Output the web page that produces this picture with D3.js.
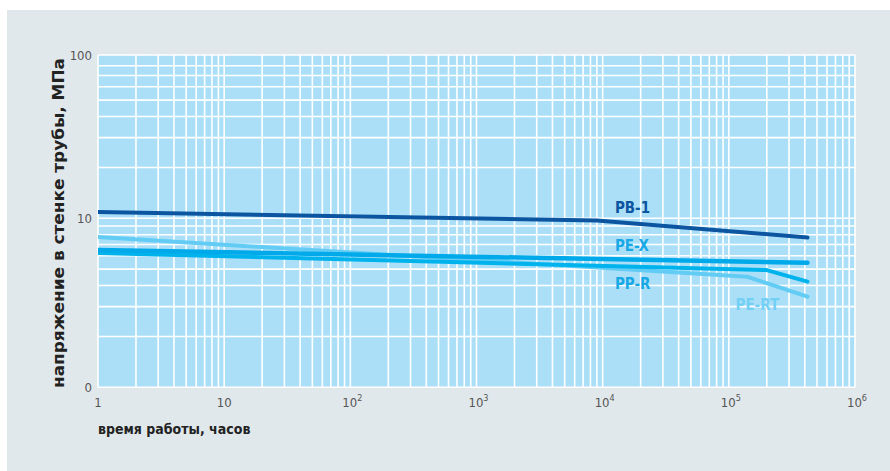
<!DOCTYPE html>
<html>

<head>
	<title>Напряжение в стенке трубы</title>
	<meta charset="utf-8">
	<script src="https://cdn.jsdelivr.net/npm/d3@7"></script>
</head>

<style>
	body { margin: 0; background: #fff; }
	text { font-family: "DejaVu Sans Condensed", "Liberation Sans Narrow", sans-serif; }
	.tick-label { fill: #555; font-size: 13px; }
	.axis-title { fill: #222; font-weight: bold; }
	.series-label { font-size: 15px; font-weight: bold; }
</style>

<body>

	<svg width="890" height="471"></svg>

	<script>
		// hours on a log axis
		var hours = {
			'PB-1': [1, 9000, 420000],
			'PE-X': [1, 420000],
			'PP-R': [1, 200000, 420000],
			'PE-RT': [1, 140000, 420000]
		};
		// stress, MPa
		var stress = {
			'PB-1': [10.9, 9.7, 7.7],
			'PE-X': [6.49, 5.46],
			'PP-R': [6.23, 4.94, 4.22],
			'PE-RT': [7.75, 4.51, 3.44]
		};
		var seriesNames = ['PE-RT', 'PP-R', 'PE-X', 'PB-1'];
		var colors = {
			'PB-1': '#0b55a1',
			'PE-X': '#00aaea',
			'PP-R': '#00b3ed',
			'PE-RT': '#62ccf4'
		};
		var labelColors = {
			'PB-1': '#0b55a1',
			'PE-X': '#18a8e6',
			'PP-R': '#18a8e6',
			'PE-RT': '#72d0f5'
		};

		var xTicks = [1, 10, 100, 1000, 10000, 100000, 1000000];
		var xTickBase = ['1', '10', '10', '10', '10', '10', '10'];
		var xTickExp = ['', '', '2', '3', '4', '5', '6'];
		var yTicks = [1, 10, 100];
		var yTickLabels = ['0', '10', '100'];

		var plot = { left: 98, right: 855, top: 55, bottom: 387.3 };

		var x = d3.scaleLog().domain([1, 1e6]).range([plot.left, plot.right]);
		var y = d3.scaleLog().domain([1, 100]).range([plot.bottom, 49.3]);

		var svg = d3.select('svg');

		svg.append('rect')
			.attr('x', 7).attr('y', 10)
			.attr('width', 883).attr('height', 461)
			.attr('fill', '#e1e8eb');

		svg.append('rect')
			.attr('x', plot.left).attr('y', plot.top)
			.attr('width', plot.right - plot.left)
			.attr('height', plot.bottom - plot.top)
			.attr('fill', '#abdff8');

		svg.append('clipPath').attr('id', 'clip')
			.append('rect')
			.attr('x', plot.left).attr('y', plot.top)
			.attr('width', plot.right - plot.left)
			.attr('height', plot.bottom - plot.top);

		// grid
		var xGrid = [];
		for (var e = 0; e < 6; e++) {
			for (var k = 1; k < 10; k++) xGrid.push(k * Math.pow(10, e));
		}
		xGrid.push(1e6);
		var yGrid = [];
		for (var e2 = 0; e2 < 2; e2++) {
			for (var k2 = 1; k2 < 10; k2++) yGrid.push(k2 * Math.pow(10, e2));
		}
		yGrid = yGrid.filter(function(d) { return d !== 90; });

		var grid = svg.append('g').attr('stroke', '#fff').attr('stroke-width', 1.6);

		grid.selectAll('.gx')
			.data(xGrid)
			.enter()
			.append('line')
			.attr('x1', function(d) { return x(d); })
			.attr('x2', function(d) { return x(d); })
			.attr('y1', plot.top)
			.attr('y2', plot.bottom);

		grid.selectAll('.gy')
			.data(yGrid)
			.enter()
			.append('line')
			.attr('x1', plot.left)
			.attr('x2', plot.right)
			.attr('y1', function(d) { return y(d); })
			.attr('y2', function(d) { return y(d); });

		grid.append('line')
			.attr('x1', plot.left).attr('x2', plot.right)
			.attr('y1', plot.top).attr('y2', plot.top);

		// series
		var line = d3.line()
			.x(function(d) { return x(d[0]); })
			.y(function(d) { return y(d[1]); });

		svg.append('g')
			.attr('clip-path', 'url(#clip)')
			.selectAll('path')
			.data(seriesNames)
			.enter()
			.append('path')
			.attr('fill', 'none')
			.attr('stroke', function(d) { return colors[d]; })
			.attr('stroke-width', function(d) { return d === 'PE-X' ? 4.5 : 4; })
			.attr('stroke-linecap', 'round')
			.attr('stroke-linejoin', 'round')
			.attr('d', function(d) {
				return line(d3.zip(hours[d], stress[d]));
			});

		// series labels (baseline anchor in data units)
		var labelPos = {
			'PB-1': [12500, 10.75],
			'PE-X': [12500, 6.4],
			'PP-R': [12500, 3.82],
			'PE-RT': [113000, 2.87]
		};

		svg.selectAll('.series-label')
			.data(seriesNames)
			.enter()
			.append('text')
			.attr('class', 'series-label')
			.attr('x', function(d) { return x(labelPos[d][0]); })
			.attr('y', function(d) { return y(labelPos[d][1]); })
			.attr('fill', function(d) { return labelColors[d]; })
			.text(function(d) { return d; });

		// x tick labels
		var xt = svg.selectAll('.xt')
			.data(xTicks)
			.enter()
			.append('text')
			.attr('class', 'tick-label')
			.attr('x', function(d, i) { return x(d) + (xTickExp[i] ? 2 : 0); })
			.attr('y', 407)
			.attr('text-anchor', 'middle');

		xt.append('tspan').text(function(d, i) { return xTickBase[i]; });
		xt.append('tspan')
			.attr('dy', -6)
			.attr('font-size', 9)
			.text(function(d, i) { return xTickExp[i]; });

		// y tick labels
		svg.selectAll('.yt')
			.data(yTicks)
			.enter()
			.append('text')
			.attr('class', 'tick-label')
			.attr('x', 92)
			.attr('y', function(d) { return Math.max(y(d), plot.top) + 5; })
			.attr('text-anchor', 'end')
			.text(function(d, i) { return yTickLabels[i]; });

		// axis titles
		svg.append('text')
			.attr('class', 'axis-title')
			.attr('x', 98)
			.attr('y', 434)
			.attr('font-size', 14)
			.text('время работы, часов');

		svg.append('text')
			.attr('class', 'axis-title')
			.attr('transform', 'translate(64, 388) rotate(-90)')
			.attr('font-size', 16)
			.attr('textLength', 330)
			.attr('lengthAdjust', 'spacingAndGlyphs')
			.text('напряжение в стенке трубы, МПа');
	</script>
</body>

</html>
